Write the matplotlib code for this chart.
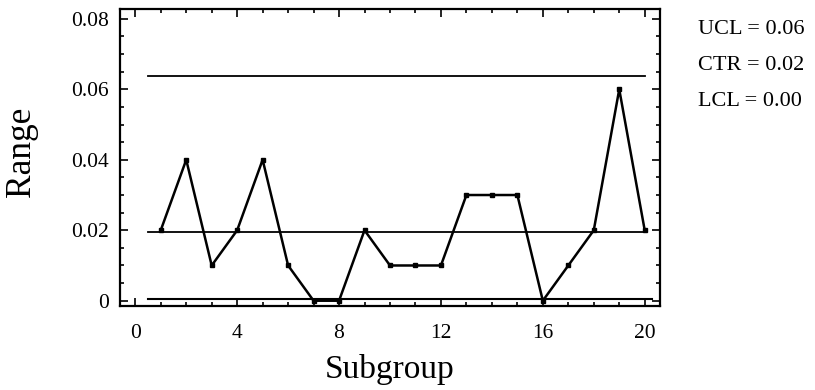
import matplotlib
matplotlib.use("Agg")
import matplotlib.pyplot as plt
from matplotlib.ticker import MultipleLocator

subgroups = list(range(1, 21))
ranges = [0.02, 0.04, 0.01, 0.02, 0.04, 0.01, 0.0, 0.0, 0.02, 0.01,
          0.01, 0.01, 0.03, 0.03, 0.03, 0.0, 0.01, 0.02, 0.06, 0.02]
ucl = 0.0637
ctr = 0.0195
lcl = 0.0005
labels = ["UCL = 0.06", "CTR = 0.02", "LCL = 0.00"]

plt.rcParams['font.family'] = ['Liberation Serif', 'DejaVu Serif']

fig = plt.figure(figsize=(8.15, 3.9), dpi=100)
ax = fig.add_axes([120/815, 1 - 306/390, 540/815, 297/390])

ax.plot([0.5, 20.0], [ucl, ucl], color='black', lw=1.3)
ax.plot([0.5, 20.0], [ctr, ctr], color='black', lw=1.3)
ax.plot([0.5, 20.3], [lcl, lcl], color='black', lw=1.5)
ax.plot(subgroups, ranges, color='black', lw=1.8, marker='s', ms=3.5)

ax.set_xlim(-0.6, 20.6)
ax.set_ylim(-0.0015, 0.0828)
ax.xaxis.set_major_locator(MultipleLocator(4))
ax.xaxis.set_minor_locator(MultipleLocator(1))
ax.yaxis.set_major_locator(MultipleLocator(0.02))
ax.yaxis.set_minor_locator(MultipleLocator(0.005))
ax.yaxis.set_major_formatter(plt.FuncFormatter(lambda v, p: '0' if abs(v) < 1e-9 else f'{v:.2f}'))
ax.tick_params(which='both', direction='in', top=True, right=True, labelsize=15.5, width=1.2)
ax.tick_params(which='major', length=6)
ax.tick_params(which='minor', length=3)
ax.tick_params(axis='x', which='major', pad=13)
ax.tick_params(axis='y', which='major', pad=8)
for s in ax.spines.values():
    s.set_linewidth(1.6)

ax.set_xlabel('Subgroup', fontsize=24, labelpad=8)
ax.set_ylabel('Range', fontsize=25.5)
ax.yaxis.set_label_coords((38 - 120) / 540, (306 - 152) / 297)

for i, t in enumerate(labels):
    fig.text(698/815, 1 - (29 + 36.5*i)/390, t, fontsize=16, va='center', ha='left')

fig.savefig('out.png', dpi=100)
